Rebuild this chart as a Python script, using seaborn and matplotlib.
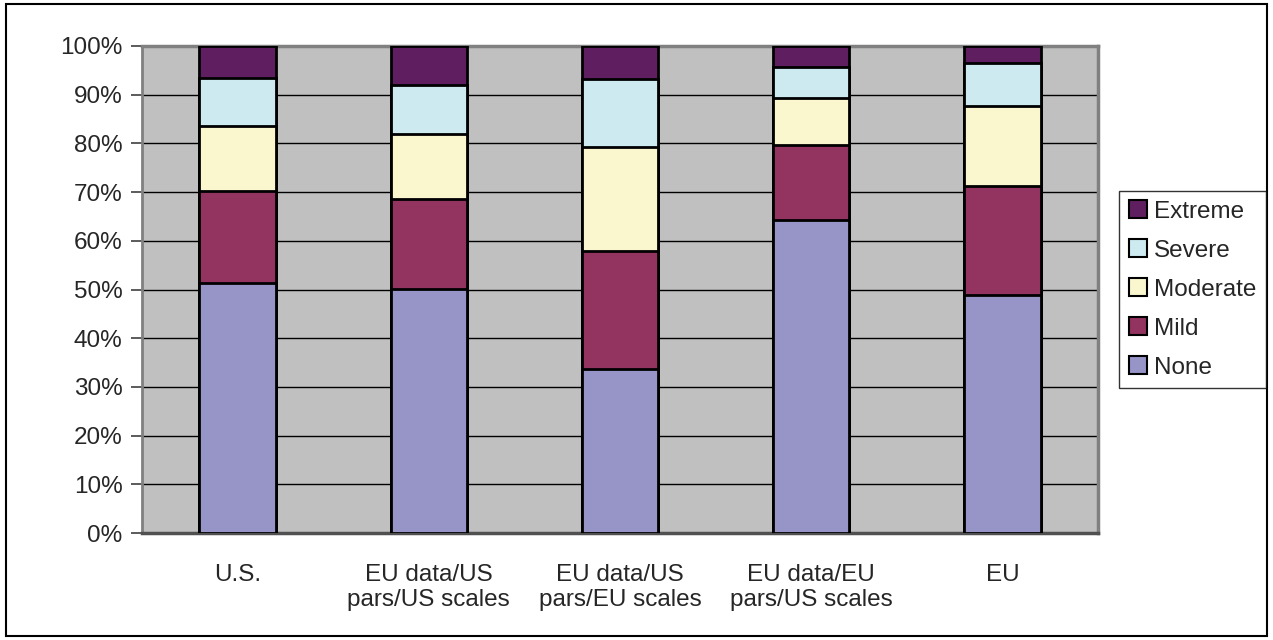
import matplotlib
matplotlib.use("Agg")
import matplotlib.pyplot as plt
import matplotlib.patches as mpatches
import seaborn as sns
import pandas as pd
import numpy as np

categories = ["U.S.", "EU data/US\npars/US scales", "EU data/US\npars/EU scales",
              "EU data/EU\npars/US scales", "EU"]
none_vals = [51.4, 50.1, 33.6, 64.3, 48.8]
mild_vals = [18.9, 18.5, 24.3, 15.4, 22.5]
moderate_vals = [13.3, 13.3, 21.3, 9.6, 16.4]
severe_vals = [9.8, 10.0, 14.0, 6.3, 8.8]
extreme_vals = [6.6, 8.1, 6.8, 4.4, 3.5]

series = ["None", "Mild", "Moderate", "Severe", "Extreme"]
colors = {"None": "#9794C8", "Mild": "#933360", "Moderate": "#FAF7CE",
          "Severe": "#CDEAF0", "Extreme": "#5F1E5F"}

df = pd.DataFrame({"None": none_vals, "Mild": mild_vals, "Moderate": moderate_vals,
                   "Severe": severe_vals, "Extreme": extreme_vals}, index=categories)
cum = df.cumsum(axis=1)

sns.set_style("white")
plt.rcParams['font.family'] = ['Liberation Sans', 'DejaVu Sans']

fig = plt.figure(figsize=(12.73, 6.4), dpi=100)
ax = fig.add_axes([142 / 1273, 1 - 533 / 640, (1098 - 142) / 1273, (533 - 46) / 640])
ax.set_facecolor("#C0C0C0")

# stacked bars: draw cumulative tops, largest first
for s in reversed(series):
    sns.barplot(x=list(cum.index), y=cum[s].values, color=colors[s], width=0.4,
                edgecolor="black", linewidth=2, saturation=1, ax=ax, zorder=3)

ax.set_ylim(0, 100)
ax.set_xlim(-0.5, 4.5)
ax.set_yticks(np.arange(0, 101, 10))
ax.set_yticklabels([f"{v}%" for v in range(0, 101, 10)])
ax.yaxis.grid(True, color="black", linewidth=1, zorder=0)
ax.set_axisbelow(True)
ax.set_xticks(range(5))
ax.set_xticklabels(categories)
ax.set_xticks(np.arange(-0.5, 5, 1), minor=True)
ax.tick_params(axis="x", which="major", length=0, labelsize=17.5, pad=22)
ax.tick_params(axis="x", which="minor", length=8, width=1.2, color="#404040", direction="out")
ax.tick_params(axis="y", length=8, width=1.2, color="#404040", labelsize=17.5, pad=6, left=True)
ax.set_xlabel("")
ax.set_ylabel("")

for side in ["top", "right"]:
    ax.spines[side].set_color("#808080")
    ax.spines[side].set_linewidth(2.5)
ax.spines["left"].set_color("#808080")
ax.spines["left"].set_linewidth(2)
ax.spines["bottom"].set_color("#505050")
ax.spines["bottom"].set_linewidth(2.5)

handles = [mpatches.Patch(facecolor=colors[s], edgecolor="black", linewidth=1.5, label=s)
           for s in reversed(series)]
leg = fig.legend(handles=handles, loc="center left",
                 bbox_to_anchor=(1119 / 1273, 1 - 289.5 / 640),
                 fontsize=17.5, frameon=True, fancybox=False, edgecolor="black",
                 handlelength=0.75, handleheight=0.75, handletextpad=0.3,
                 labelspacing=0.68, borderpad=0.4, borderaxespad=0)
leg.get_frame().set_linewidth(1)

fig.patches.append(mpatches.Rectangle((6 / 1273, 4 / 640), 1261 / 1273, 632 / 640,
                                      transform=fig.transFigure, fill=False,
                                      edgecolor="black", linewidth=1.5))

fig.savefig("out.png", dpi=100)
